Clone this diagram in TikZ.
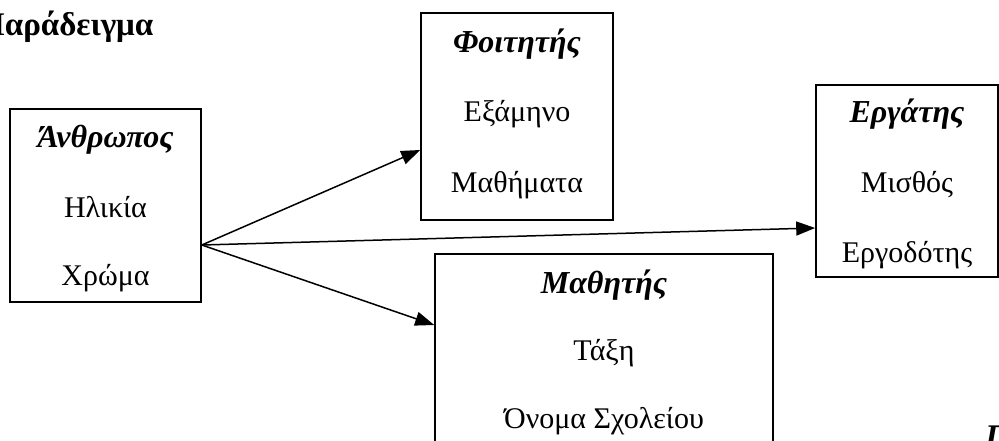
\documentclass[tikz,border=0pt]{standalone}
\usepackage{fontspec}
\setmainfont{Liberation Serif}
\usetikzlibrary{arrows.meta}

\tikzset{
  classbox/.style={draw, line width=1.6pt, rectangle, inner sep=0pt},
  classname/.style={anchor=base, inner sep=0pt, font=\fontsize{32}{36}\selectfont\bfseries\itshape},
  attr/.style={anchor=base, inner sep=0pt, font=\fontsize{30}{34}\selectfont},
  inherit/.style={line width=1.5pt, -{Triangle[length=19pt,width=14pt]}}
}

\begin{document}
\begin{tikzpicture}[x=1pt,y=-1pt]
\useasboundingbox (0,0) rectangle (999,441);
\clip (0,0) rectangle (999,441);

% heading
\node[anchor=base west, inner sep=0pt, font=\fontsize{33}{38}\selectfont\bfseries] (title) at (-21,36) {Παράδειγμα};

% base class
\node[classbox, minimum width=191pt, minimum height=193pt] (A) at (105.5,205.5) {};
\node[classname] (A1) at (105.5,148) {Άνθρωπος};
\node[attr] (A2) at (105.5,217) {Ηλικία};
\node[attr] (A3) at (105.5,285) {Χρώμα};

% derived classes
\node[classbox, minimum width=192pt, minimum height=207pt] (F) at (517,116.5) {};
\node[classname] (F1) at (517,53) {Φοιτητής};
\node[attr] (F2) at (517,122) {Εξάμηνο};
\node[attr] (F3) at (517,193) {Μαθήματα};

\node[classbox, minimum width=182pt, minimum height=192pt] (E) at (907,181) {};
\node[classname] (E1) at (907,123) {Εργάτης};
\node[attr] (E2) at (907,193) {Μισθός};
\node[attr] (E3) at (907,262) {Εργοδότης};

\node[classbox, minimum width=338pt, minimum height=216pt] (M) at (604,362) {};
\node[classname] (M1) at (604,293) {Μαθητής};
\node[attr] (M2) at (604,360) {Τάξη};
\node[attr] (M3) at (604,428) {Όνομα Σχολείου};

% start of the next heading, running off the page
\node[anchor=base west, inner sep=0pt, font=\fontsize{33}{38}\selectfont\bfseries\itshape] (next) at (985,447) {Π};

% inheritance arrows
\draw[inherit] ([yshift=-39.5pt]A.east) -- ([yshift=-33.5pt]F.west);
\draw[inherit] ([yshift=-39.5pt]A.east) -- ([yshift=-47pt]E.west);
\draw[inherit] ([yshift=-39.5pt]A.east) -- ([yshift=37pt]M.west);
\end{tikzpicture}
\end{document}
